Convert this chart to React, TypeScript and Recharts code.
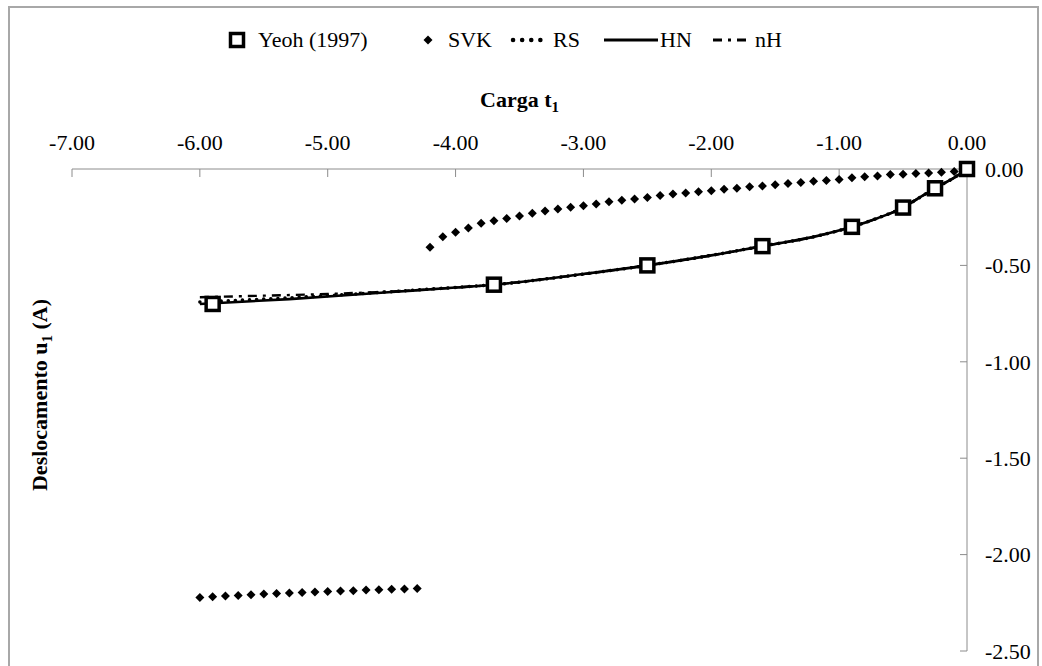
import React from 'react';
import { ComposedChart, XAxis, YAxis, Line, Scatter, Legend } from 'recharts';

const xTicks = [-7, -6, -5, -4, -3, -2, -1, 0];
const yTicks = [0, -0.5, -1, -1.5, -2, -2.5];

const yeohT = [-5.9, -3.7, -2.5, -1.6, -0.9, -0.5, -0.25, 0];
const yeohU = [-0.7, -0.6, -0.5, -0.4, -0.3, -0.2, -0.1, 0];

const svkUpperT = [
  -4.2, -4.1, -4.0, -3.9, -3.8, -3.7, -3.6, -3.5, -3.4, -3.3, -3.2, -3.1, -3.0, -2.9, -2.8,
  -2.7, -2.6, -2.5, -2.4, -2.3, -2.2, -2.1, -2.0, -1.9, -1.8, -1.7, -1.6, -1.5, -1.4, -1.3,
  -1.2, -1.1, -1.0, -0.9, -0.8, -0.7, -0.6, -0.5, -0.4, -0.3, -0.2, -0.1, 0,
];
const svkUpperU = [
  -0.406, -0.351, -0.328, -0.306, -0.281, -0.268, -0.257, -0.244, -0.229, -0.218, -0.207, -0.198, -0.19, -0.181, -0.17,
  -0.162, -0.155, -0.148, -0.138, -0.13, -0.124, -0.118, -0.113, -0.105, -0.1, -0.092, -0.088, -0.082, -0.075, -0.07,
  -0.064, -0.06, -0.055, -0.045, -0.04, -0.036, -0.029, -0.027, -0.023, -0.021, -0.017, -0.013, 0,
];

const svkLowerT = [-6.0, -5.9, -5.8, -5.7, -5.6, -5.5, -5.4, -5.3, -5.2, -5.1, -5.0, -4.9, -4.8, -4.7, -4.6, -4.5, -4.4, -4.3];
const svkLowerU = [
  -2.222, -2.219, -2.215, -2.212, -2.208, -2.205, -2.202, -2.199, -2.197, -2.194, -2.192, -2.189, -2.187, -2.184, -2.182, -2.18, -2.178, -2.176,
];

const hnT = [-6.0, -5.3, -4.5, -4.0, -3.7, -3.0, -2.5, -2.0, -1.6, -1.2, -0.9, -0.7, -0.5, -0.4, -0.25, -0.1, 0];
const hnU = [-0.7, -0.675, -0.638, -0.615, -0.6, -0.545, -0.5, -0.448, -0.4, -0.352, -0.3, -0.255, -0.2, -0.16, -0.1, -0.045, 0];

const rsT = [-6.0, -5.3, -4.5, -4.0, -3.7, -3.0, -2.5, -2.0, -1.6, -1.2, -0.9, -0.7, -0.5, -0.4, -0.25, -0.1, 0];
const rsU = [-0.69, -0.668, -0.636, -0.614, -0.6, -0.545, -0.5, -0.448, -0.4, -0.352, -0.3, -0.255, -0.2, -0.16, -0.1, -0.045, 0];

const nhT = [-6.0, -5.5, -5.0, -4.5, -4.0, -3.7, -3.0, -2.5, -2.0, -1.6, -1.2, -0.9, -0.7, -0.5, -0.4, -0.25, -0.1, 0];
const nhU = [-0.665, -0.657, -0.648, -0.635, -0.615, -0.6, -0.545, -0.5, -0.448, -0.4, -0.352, -0.3, -0.255, -0.2, -0.16, -0.1, -0.045, 0];

const toPts = (t: number[], u: number[]) => t.map((x, i) => ({ x, y: u[i] }));

const yeohData = toPts(yeohT, yeohU);
const svkData = [...toPts(svkLowerT, svkLowerU), ...toPts(svkUpperT, svkUpperU)];
const hnData = toPts(hnT, hnU);
const rsData = toPts(rsT, rsU);
const nhData = toPts(nhT, nhU);

const FONT = '"Liberation Serif", "Times New Roman", serif';
const FS = 22;

const Square = (props: any) => {
  const { cx, cy } = props;
  if (cx == null || cy == null) return null;
  return <rect x={cx - 6.5} y={cy - 6.5} width={13} height={13} fill="#fff" stroke="#000" strokeWidth={3.5} />;
};

const Diamond = (props: any) => {
  const { cx, cy } = props;
  if (cx == null || cy == null) return null;
  return <path d={`M${cx},${cy - 4.5} L${cx + 4.5},${cy} L${cx},${cy + 4.5} L${cx - 4.5},${cy} Z`} fill="#000" />;
};

const LegendContent = () => {
  const cy = 20;
  const ty = cy + 7;
  const txt = { fontFamily: FONT, fontSize: FS, fill: '#000' } as const;
  return (
    <svg width={1042} height={40} style={{ display: 'block' }}>
      <rect x={230.5} y={cy - 6.5} width={13} height={13} fill="#fff" stroke="#000" strokeWidth={3.5} />
      <text x={258} y={ty} {...txt}>Yeoh (1997)</text>
      <path d={`M428,${cy - 4.5} L432.5,${cy} L428,${cy + 4.5} L423.5,${cy} Z`} fill="#000" />
      <text x={448} y={ty} {...txt}>SVK</text>
      <line x1={513} y1={cy} x2={549} y2={cy} stroke="#000" strokeWidth={4.5} strokeDasharray="0.1 9" strokeLinecap="round" />
      <text x={553} y={ty} {...txt}>RS</text>
      <line x1={604} y1={cy} x2={658} y2={cy} stroke="#000" strokeWidth={2.8} />
      <text x={660} y={ty} {...txt}>HN</text>
      <line x1={713} y1={cy} x2={752} y2={cy} stroke="#000" strokeWidth={2.8} strokeDasharray="9 6 3 6" />
      <text x={755} y={ty} {...txt}>nH</text>
    </svg>
  );
};

const XTitle = (props: any) => {
  const vb = props.viewBox || {};
  const cx = (vb.x ?? 72) + (vb.width ?? 895) / 2;
  return (
    <text x={cx} y={107} textAnchor="middle" fontFamily={FONT} fontSize={FS} fontWeight="bold" fill="#000">
      Carga t<tspan fontSize={15} dy={5}>1</tspan>
    </text>
  );
};

const YTitle = () => {
  const x = 47;
  const y = 395;
  return (
    <text x={x} y={y} transform={`rotate(-90, ${x}, ${y})`} textAnchor="middle" fontFamily={FONT} fontSize={FS} fontWeight="bold" fill="#000">
      Deslocamento u<tspan fontSize={15} dy={5}>1</tspan><tspan dy={-5}> (A)</tspan>
    </text>
  );
};

const fmt = (v: number) => v.toFixed(2);

export default function App() {
  return (
    <div style={{ position: 'absolute', left: 0, top: 0, width: 1042, height: 666, background: '#fff', overflow: 'hidden' }}>
      <div style={{ position: 'absolute', left: 8, top: 6, width: 1031, height: 720, border: '2px solid #a8a8a8', boxSizing: 'border-box' }} />
      <div style={{ position: 'absolute', left: 0, top: 0 }}>
        <ComposedChart width={1042} height={666} margin={{ top: 129, right: 15, bottom: 15, left: 72 }}>
          <XAxis
            type="number"
            dataKey="x"
            orientation="top"
            domain={[-7, 0]}
            ticks={xTicks}
            tickFormatter={fmt}
            height={40}
            stroke="#8c8c8c"
            tickSize={-8}
            tickMargin={27}
            tick={{ fill: '#000', fontFamily: FONT, fontSize: FS }}
            label={<XTitle />}
          />
          <YAxis
            type="number"
            dataKey="y"
            orientation="right"
            domain={[-2.5, 0]}
            ticks={yTicks}
            tickFormatter={fmt}
            width={60}
            stroke="#8c8c8c"
            tickSize={-7}
            tickMargin={25}
            tick={{ fill: '#000', fontFamily: FONT, fontSize: FS }}
            label={<YTitle />}
          />
          <Legend
            layout="horizontal"
            verticalAlign="middle"
            align="center"
            content={<LegendContent />}
            wrapperStyle={{ position: 'absolute', left: 0, top: 20, width: 1042, height: 40 }}
          />
          <Line data={nhData} dataKey="y" name="nH" type="monotone" stroke="#000" strokeWidth={2.4} strokeDasharray="9 6 3 6" dot={false} activeDot={false} isAnimationActive={false} />
          <Line data={rsData} dataKey="y" name="RS" type="monotone" stroke="#000" strokeWidth={3.5} strokeDasharray="0.1 7" strokeLinecap="round" dot={false} activeDot={false} isAnimationActive={false} />
          <Line data={hnData} dataKey="y" name="HN" type="monotone" stroke="#000" strokeWidth={2.6} dot={false} activeDot={false} isAnimationActive={false} />
          <Scatter data={svkData} dataKey="y" name="SVK" shape={<Diamond />} isAnimationActive={false} />
          <Scatter data={yeohData} dataKey="y" name="Yeoh (1997)" shape={<Square />} isAnimationActive={false} />
        </ComposedChart>
      </div>
    </div>
  );
}
